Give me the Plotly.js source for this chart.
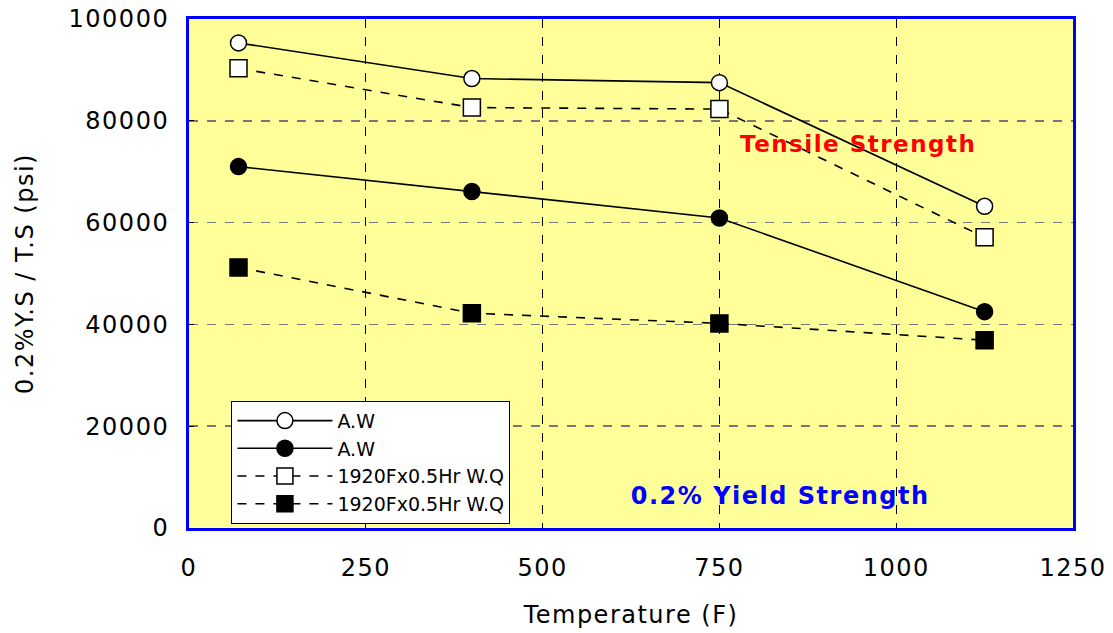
<!DOCTYPE html>
<html>
<head>
<meta charset="utf-8">
<script src="https://cdn.plot.ly/plotly-3.0.1.min.js"></script>
<style>html,body{margin:0;padding:0;background:#fff;}#chart{width:1113px;height:633px;}
#chart svg text{letter-spacing:1.5px;}
#chart svg text.legendtext{letter-spacing:0;}</style>
</head>
<body>
<div id="chart"></div>
<script>
const temperature = [70, 400, 750, 1125];
const tsAW = [95300, 88300, 87500, 63200];
const ysAW = [71000, 66100, 60900, 42500];
const tsHT = [90300, 82600, 82300, 57100];
const ysHT = [51200, 42200, 40200, 36900];
const seriesNames = ['A.W', 'A.W', '1920Fx0.5Hr W.Q', '1920Fx0.5Hr W.Q'];
const yTicks = [0, 20000, 40000, 60000, 80000, 100000];
const xTicks = [0, 250, 500, 750, 1000, 1250];

const font = 'Verdana, "DejaVu Sans", sans-serif';
function tr(y, name, dash, symbol, fill) {
  return {
    x: temperature, y: y, name: name, type: 'scatter', mode: 'lines+markers',
    line: {color: '#000', width: 1.6, dash: dash},
    marker: {symbol: symbol, size: symbol === 'square' ? 17 : 16, color: fill, line: {color: '#000', width: 1.5}}
  };
}
const data = [
  tr(tsAW, seriesNames[0], 'solid', 'circle', '#fff'),
  tr(ysAW, seriesNames[1], 'solid', 'circle', '#000'),
  tr(tsHT, seriesNames[2], 'dash', 'square', '#fff'),
  tr(ysHT, seriesNames[3], 'dash', 'square', '#000')
];
const layout = {
  width: 1113, height: 633,
  margin: {l: 189, r: 40, t: 19, b: 105},
  paper_bgcolor: '#fff', plot_bgcolor: '#FFFF99',
  font: {family: font, size: 24, color: '#000'},
  showlegend: true,
  legend: {x: 0.048, y: 0.25, xanchor: 'left', yanchor: 'top', bgcolor: '#fff', bordercolor: '#000', borderwidth: 1,
    font: {family: font, size: 19}, tracegroupgap: 0, itemwidth: 95},
  xaxis: {range: [0, 1250], tickvals: xTicks, ticktext: xTicks.map(String), showgrid: true, gridcolor: '#000', griddash: 'dash', gridwidth: 1,
    zeroline: false, showline: true, mirror: true, linecolor: '#0000FF', linewidth: 3, ticks: 'inside', ticklen: 5, tickcolor: '#000',
    ticklabelstandoff: 16,
    title: {text: 'Temperature (F)', font: {family: font, size: 24}, standoff: 26}, tickfont: {family: font, size: 24}},
  yaxis: {range: [0, 100000], tickvals: yTicks, ticktext: yTicks.map(String), showgrid: true, gridcolor: '#777', griddash: 'dash', gridwidth: 1.5,
    zeroline: false, showline: true, mirror: true, linecolor: '#0000FF', linewidth: 3, ticks: 'inside', ticklen: 5, tickcolor: '#000',
    ticklabelstandoff: 12,
    title: {text: '0.2%Y.S / T.S (psi)', font: {family: font, size: 24}, standoff: 38}, tickfont: {family: font, size: 24}},
  annotations: [
    {x: 946, y: 75400, xref: 'x', yref: 'y', text: '<b>Tensile Strength</b>', showarrow: false, font: {family: font, size: 23, color: '#FF0000'}},
    {x: 836, y: 6300, xref: 'x', yref: 'y', text: '<b>0.2% Yield Strength</b>', showarrow: false, font: {family: font, size: 24, color: '#0000FF'}}
  ]
};
Plotly.newPlot('chart', data, layout, {displayModeBar: false, staticPlot: true});
</script>
</body>
</html>
